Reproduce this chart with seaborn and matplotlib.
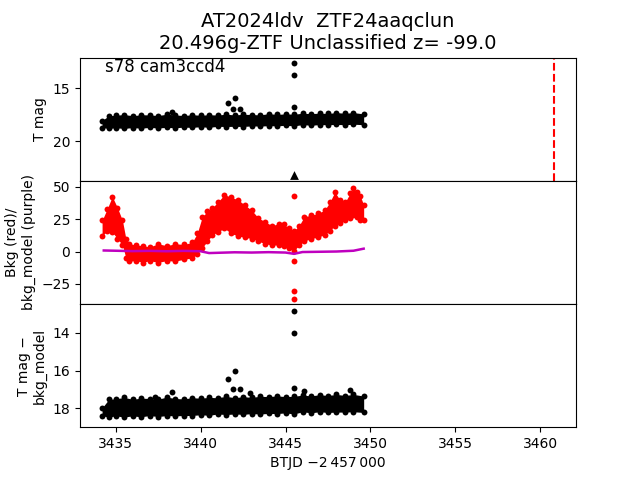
import matplotlib
matplotlib.use("Agg")
import matplotlib.pyplot as plt
import numpy as np
import pandas as pd
import seaborn as sns

# ---------------- values ----------------
title_line1 = "AT2024ldv  ZTF24aaqclun"
title_line2 = "20.496g-ZTF Unclassified z= -99.0"
sector_label = "s78 cam3ccd4"
disc_btjd = 3460.8

# T mag point cloud: bright / faint edge of the band (marker centres)
t_mag = [3434.2, 3434.6, 3435.0, 3435.5, 3436.0, 3436.5, 3437.0, 3437.5,
         3438.0, 3438.5, 3439.0, 3439.5, 3440.0, 3440.5, 3441.0, 3441.5,
         3442.0, 3442.5, 3443.0, 3443.5, 3444.0, 3444.5, 3445.0, 3445.5,
         3446.0, 3446.5, 3447.0, 3447.5, 3448.0, 3448.5, 3449.0, 3449.6]
mag_bright = [18.05, 17.6, 17.55, 17.48, 17.6, 17.5, 17.52, 17.58,
              17.45, 17.52, 17.58, 17.5, 17.55, 17.5, 17.53, 17.45,
              17.52, 17.46, 17.48, 17.52, 17.4, 17.47, 17.42, 17.45,
              17.36, 17.4, 17.35, 17.38, 17.3, 17.36, 17.3, 17.42]
mag_faint = [18.72, 18.8, 18.74, 18.8, 18.72, 18.78, 18.7, 18.76,
             18.7, 18.74, 18.68, 18.7, 18.64, 18.7, 18.6, 18.62,
             18.6, 18.62, 18.56, 18.58, 18.54, 18.56, 18.5, 18.56,
             18.44, 18.5, 18.44, 18.45, 18.42, 18.45, 18.4, 18.45]
mag_out_t = [3441.6, 3442.0, 3441.9, 3442.3, 3438.3, 3445.5, 3445.5, 3445.5]
mag_out = [16.4, 15.9, 16.97, 16.97, 17.25, 12.6, 13.7, 16.8]
lim_t = [3445.5]
lim_mag = [23.2]

# background flux band (top / bottom edge, marker centres) and model
t_bkg = [3434.2, 3434.5, 3434.8, 3435.1, 3435.4, 3435.6, 3435.8, 3436.2,
         3436.6, 3437.0, 3437.5, 3438.0, 3438.5, 3439.0, 3439.5, 3439.8,
         3440.1, 3440.4, 3440.7, 3441.0, 3441.4, 3441.8, 3442.2, 3442.6,
         3443.0, 3443.4, 3443.8, 3444.2, 3444.6, 3444.9, 3445.2, 3445.5,
         3445.8, 3446.1, 3446.5, 3446.9, 3447.3, 3447.6, 3447.9, 3448.2,
         3448.5, 3448.8, 3449.0, 3449.2, 3449.4, 3449.6]
bkg_top = [24.0, 33.0, 42.5, 34.0, 24.0, 10.0, 6.0, 5.0,
           4.5, 3.5, 6.0, 4.5, 6.0, 5.5, 7.0, 14.0,
           27.0, 31.0, 34.0, 38.0, 44.0, 42.0, 40.0, 36.0,
           32.0, 26.0, 23.0, 20.0, 21.5, 21.0, 18.0, 16.0,
           20.0, 27.0, 28.0, 29.5, 32.0, 38.0, 46.0, 40.0,
           38.0, 45.0, 49.0, 46.0, 43.0, 36.0]
bkg_bot = [12.0, 16.0, 15.0, 10.0, 5.0, -5.0, -7.5, -7.0,
           -8.5, -7.0, -8.5, -7.0, -7.5, -6.0, -5.0, -2.0,
           3.0, 8.0, 13.0, 15.0, 18.0, 14.0, 12.0, 11.0,
           10.0, 8.0, 6.0, 5.0, 5.0, 4.0, 3.0, 0.5,
           5.0, 8.0, 10.0, 11.0, 13.0, 16.0, 20.0, 22.0,
           24.0, 26.0, 28.0, 27.0, 24.0, 24.0]
bkg_out_t = [3445.5, 3445.5, 3445.5, 3445.5]
bkg_out = [43.0, -7.0, -30.5, -37.0]
t_model = [3434.3, 3435.0, 3436.0, 3437.0, 3438.0, 3439.0, 3440.0, 3440.5,
           3441.0, 3442.0, 3443.0, 3444.0, 3445.0, 3445.5, 3446.0, 3447.0,
           3448.0, 3449.0, 3449.6]
bkg_model = [0.8, 0.6, 0.3, 0.5, 0.2, 0.5, 0.2, -1.2,
             -1.0, -0.6, -0.8, -0.5, -0.8, -1.8, -0.4, -0.2,
             0.0, 0.6, 2.2]

# T mag - bkg_model band
diff_bright = [17.98, 17.52, 17.5, 17.42, 17.52, 17.46, 17.48, 17.52,
               17.4, 17.48, 17.5, 17.44, 17.46, 17.42, 17.44, 17.36,
               17.44, 17.38, 17.42, 17.36, 17.38, 17.34, 17.38, 17.36,
               17.3, 17.34, 17.28, 17.32, 17.26, 17.32, 17.26, 17.35]
diff_faint = [18.4, 18.46, 18.4, 18.46, 18.4, 18.45, 18.38, 18.44,
              18.38, 18.4, 18.38, 18.38, 18.34, 18.37, 18.3, 18.33,
              18.3, 18.32, 18.28, 18.3, 18.27, 18.28, 18.24, 18.3,
              18.18, 18.24, 18.18, 18.22, 18.2, 18.2, 18.18, 18.22]
diff_out_t = [3441.6, 3442.0, 3441.9, 3442.3, 3438.3, 3437.3, 3445.5, 3445.5,
              3445.5, 3442.9, 3446.1, 3448.8]
diff_out = [16.47, 16.0, 16.95, 17.0, 17.16, 17.4, 12.84, 14.0,
            16.9, 17.2, 17.1, 17.05]


def band(ax, t, lo, hi, color):
    ax.fill_between(t, lo, hi, color=color, linewidth=0)
    sns.scatterplot(x=t + t, y=list(lo) + list(hi), color=color, s=18,
                    linewidth=0, ax=ax, legend=False)


fig, axes = plt.subplots(3, 1, sharex=True, figsize=(6.4, 4.8), dpi=100)
fig.subplots_adjust(hspace=0)
ax0, ax1, ax2 = axes

# --- top: T mag
band(ax0, t_mag, mag_bright, mag_faint, "k")
sns.scatterplot(x=mag_out_t, y=mag_out, color="k", s=18, linewidth=0, ax=ax0)
sns.scatterplot(x=lim_t, y=lim_mag, color="k", marker="^", s=40, linewidth=0, ax=ax0)
ax0.axvline(disc_btjd, color="r", ls="--", lw=1.5)
ax0.set_ylim(23.77, 12.08)
ax0.set_yticks([15, 20])
ax0.set_ylabel("T mag")
ax0.text(0.05, 0.995, sector_label, transform=ax0.transAxes, fontsize=12, va="top")
ax0.set_title(title_line1 + "\n" + title_line2, fontsize=14)

# --- middle: background
band(ax1, t_bkg, bkg_bot, bkg_top, "r")
sns.scatterplot(x=bkg_out_t, y=bkg_out, color="r", s=18, linewidth=0, ax=ax1)
sns.lineplot(x=t_model, y=bkg_model, color="m", lw=1.8, ax=ax1)
ax1.set_ylim(-40.6, 54.7)
ax1.set_yticks([-25, 0, 25, 50])
ax1.set_ylabel("Bkg (red)/\nbkg_model (purple)")

# --- bottom: T mag - bkg_model
band(ax2, t_mag, diff_bright, diff_faint, "k")
sns.scatterplot(x=diff_out_t, y=diff_out, color="k", s=18, linewidth=0, ax=ax2)
ax2.set_ylim(19.0, 12.47)
ax2.set_yticks([14, 16, 18])
ax2.set_ylabel("T mag \u2212\nbkg_model")

for ax in (ax0, ax1):
    ax.tick_params(axis="x", bottom=False, labelbottom=False)
ax2.set_xlim(3432.9, 3462.1)
ax2.set_xticks([3435, 3440, 3445, 3450, 3455, 3460])
ax2.set_xlabel("BTJD \u22122\u2009457\u2009000")

fig.savefig("out.png", dpi=100)
